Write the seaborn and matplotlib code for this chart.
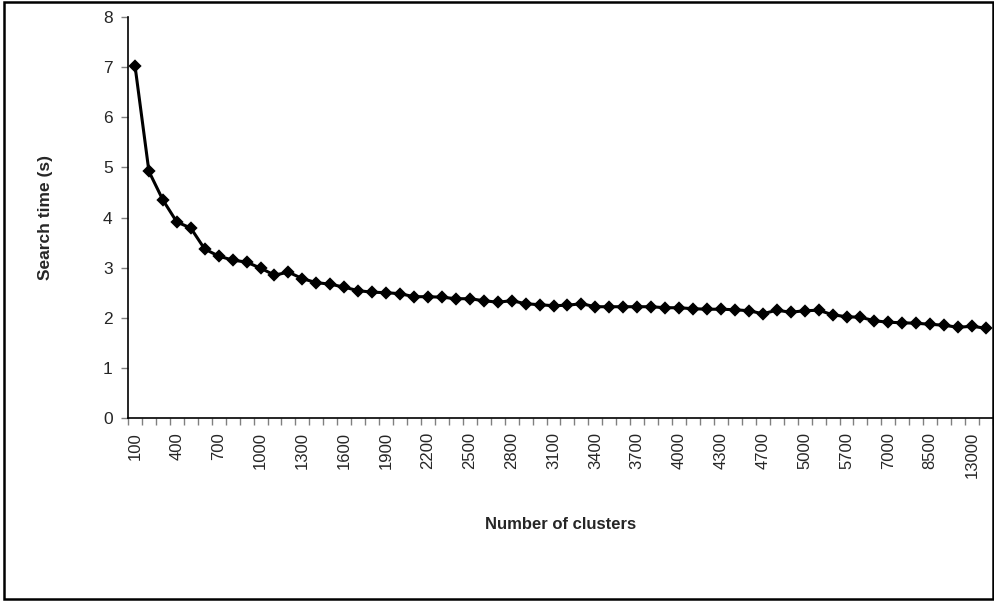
import numpy as np
import pandas as pd
import matplotlib
matplotlib.use("Agg")
import matplotlib.pyplot as plt
import seaborn as sns
from matplotlib.patches import Rectangle

# numar de clustere (categorii pe axa x)
clusters = [str(v) for v in range(100, 4400, 100)] + [
    "4400", "4500", "4700", "4800", "4900", "5000", "5200", "5500", "5700",
    "6000", "6500", "7000", "7500", "8000", "8500", "9500", "11000", "13000", "15000"]

# timpul de cautare (secunde)
search_time = [
    7.03, 4.92, 4.35, 3.91, 3.79, 3.37, 3.23, 3.15, 3.11, 2.99,
    2.85, 2.91, 2.78, 2.70, 2.67, 2.61, 2.54, 2.51, 2.50, 2.48,
    2.42, 2.42, 2.41, 2.38, 2.38, 2.34, 2.31, 2.34, 2.28, 2.26,
    2.24, 2.25, 2.28, 2.22, 2.22, 2.22, 2.22, 2.22, 2.20, 2.20,
    2.18, 2.17, 2.17, 2.16, 2.14, 2.08, 2.15, 2.11, 2.14, 2.15,
    2.06, 2.02, 2.01, 1.94, 1.91, 1.90, 1.89, 1.87, 1.85, 1.81,
    1.83, 1.79]

y_ticks = [0, 1, 2, 3, 4, 5, 6, 7, 8]

df = pd.DataFrame({"clusters": clusters, "time": search_time})

sns.set_style("white")
plt.rcParams["font.family"] = ["Liberation Sans", "DejaVu Sans"]

fig = plt.figure(figsize=(9.95, 6.01), dpi=100)
ax = fig.add_axes([128 / 995, 1 - 418 / 601, 865 / 995, 401 / 601])

sns.pointplot(data=df, x="clusters", y="time", order=clusters, color="black",
              markers="D", markersize=5, linewidth=2.2, errorbar=None, ax=ax)

# axa y
ax.set_ylim(0, 8)
ax.set_yticks(y_ticks)
ax.set_yticklabels([str(t) for t in y_ticks], fontsize=12.5)
ax.tick_params(axis="y", direction="out", length=5, width=1, color="#808080",
               left=True, pad=6)

# axa x: etichete din 3 in 3, tick-uri intre categorii
n = len(clusters)
ax.set_xlim(-0.5, n - 0.5)
ax.set_xticks(range(0, n, 3))
ax.set_xticklabels(clusters[::3], rotation=90, fontsize=12)
ax.set_xticks(np.arange(-0.5, n, 1), minor=True)
ax.tick_params(axis="x", which="major", length=0, pad=10)
ax.tick_params(axis="x", which="minor", direction="out", length=5, width=1,
               color="#808080", bottom=True)

for s in ["top", "right"]:
    ax.spines[s].set_visible(False)
for s in ["left", "bottom"]:
    ax.spines[s].set_color("black")
    ax.spines[s].set_linewidth(1.2)

ax.set_ylabel("Search time (s)", fontsize=12.5, fontweight="bold", labelpad=36)
ax.set_xlabel("Number of clusters", fontsize=12, fontweight="bold", labelpad=28)
ax.grid(False)

# chenarul din jurul graficului
fig.patches.append(Rectangle((0.004, 0.004), 0.994, 0.992, transform=fig.transFigure,
                             fill=False, edgecolor="black", linewidth=1.8))

fig.savefig("out.png", dpi=100)
